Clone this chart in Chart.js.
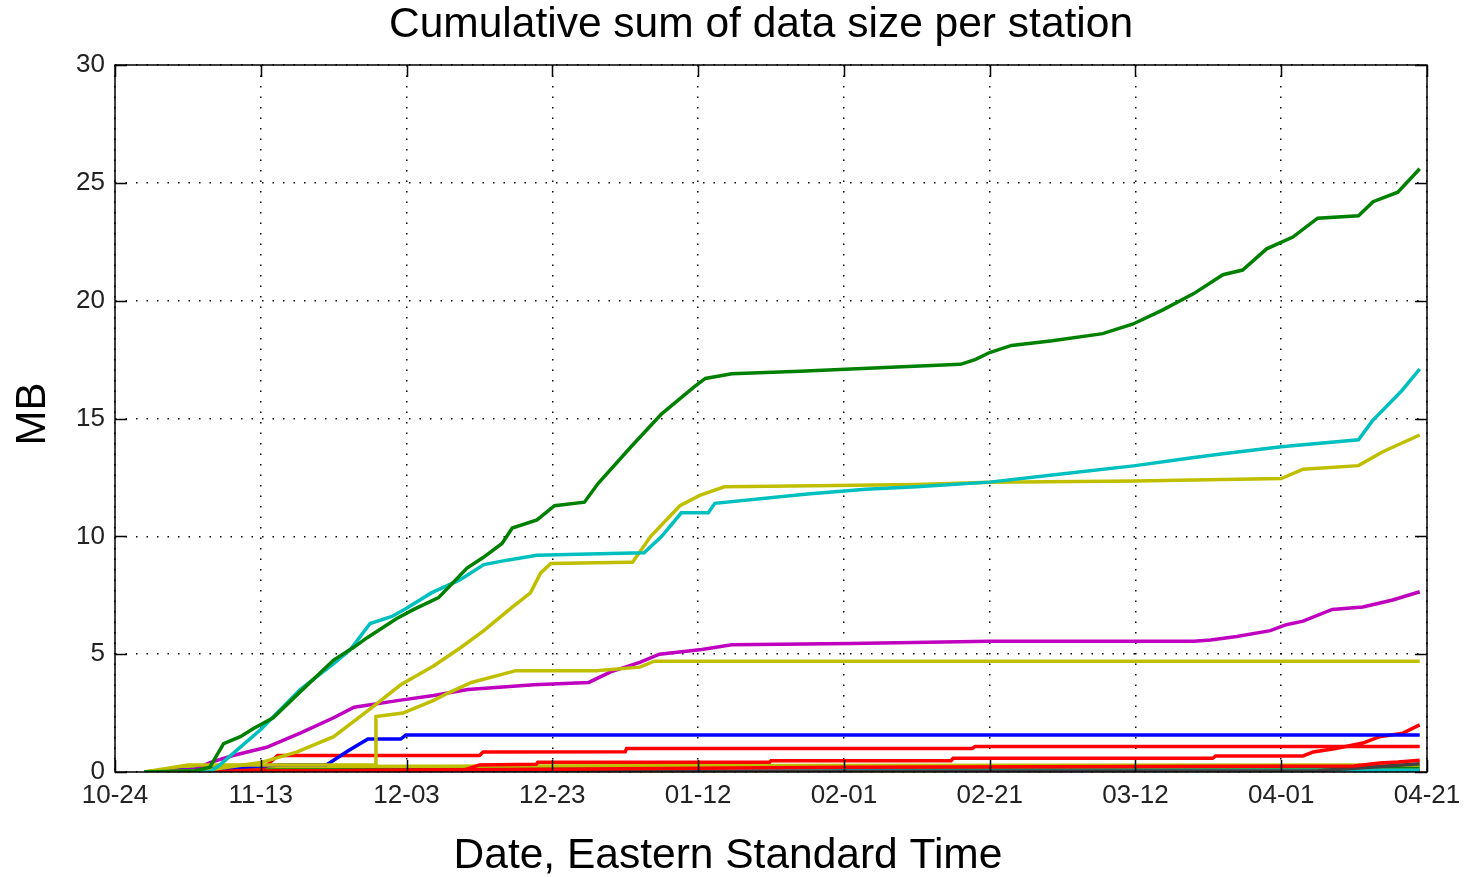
<!DOCTYPE html>
<html>
<head>
<meta charset="utf-8">
<script src="https://cdn.jsdelivr.net/npm/chart.js@4.4.1/dist/chart.umd.min.js"></script>
<style>
    html, body { margin: 0; padding: 0; background: #fff; }
    #wrap { width: 1464px; height: 877px; }
</style>
</head>
<body>
<div id="wrap"><canvas id="chart" width="1464" height="877"></canvas></div>
<script>
// Tick labels (every 20 days from 10-24)
const tickLabels = ['10-24', '11-13', '12-03', '12-23', '01-12', '02-01', '02-21', '03-12', '04-01', '04-21'];

// Values: x = days since 10-24, y = cumulative MB
const greenDays = [4, 11, 13, 14.9, 17.2, 19, 21.7, 25.4, 30, 32.8, 34.6, 38.6, 41, 44.4, 48.3, 50.5, 53.1, 54.5, 57.9, 60.3, 64.4, 66.3, 70.8, 75, 79.5, 81, 84.6, 94, 101, 108, 116, 118, 120, 123, 128.6, 135.5, 139.6, 143.7, 148, 152, 154.7, 158, 161.6, 165, 170.6, 172.6, 176, 179];
const greenMB = [0, 0.05, 0.2, 1.2, 1.5, 1.85, 2.3, 3.4, 4.75, 5.3, 5.7, 6.5, 6.9, 7.4, 8.65, 9.1, 9.7, 10.35, 10.7, 11.3, 11.45, 12.25, 13.8, 15.2, 16.35, 16.7, 16.9, 17.0, 17.1, 17.2, 17.3, 17.5, 17.8, 18.1, 18.3, 18.6, 19.0, 19.6, 20.3, 21.1, 21.3, 22.2, 22.7, 23.5, 23.6, 24.2, 24.6, 25.6];

const cyanDays = [4, 13, 14.4, 17, 20, 25.4, 30, 32.3, 35, 38, 40, 43.4, 47.3, 50.6, 54, 57.9, 65, 72.6, 75, 77.7, 81.4, 82.3, 95, 103, 110, 120, 128.6, 140, 147, 152, 160, 170.6, 172.5, 176.6, 179];
const cyanMB = [0, 0, 0.3, 1.0, 1.8, 3.5, 4.6, 5.2, 6.3, 6.6, 6.95, 7.6, 8.15, 8.8, 9.0, 9.2, 9.25, 9.3, 10.0, 11.0, 11.0, 11.4, 11.8, 12.0, 12.1, 12.3, 12.6, 13.0, 13.3, 13.5, 13.8, 14.1, 14.9, 16.2, 17.1];

const oliveDays = [4, 12, 20, 25, 30, 34.7, 39.2, 43.7, 47.3, 50.6, 54.5, 57, 58.4, 59.8, 70.4, 71, 73.5, 77.5, 80.3, 83.6, 96, 110, 120, 140, 160, 163, 170.6, 174, 179];
const oliveMB = [0, 0.05, 0.4, 0.85, 1.5, 2.6, 3.7, 4.5, 5.25, 6.0, 7.0, 7.6, 8.45, 8.85, 8.9, 8.9, 10.0, 11.3, 11.75, 12.1, 12.15, 12.2, 12.3, 12.35, 12.45, 12.85, 13.0, 13.6, 14.3];

const olive2Days = [4, 10, 35.8, 35.8, 39.5, 43.8, 45.7, 48.9, 55, 66, 72, 74, 179];
const olive2MB = [0, 0.3, 0.3, 2.35, 2.5, 3.05, 3.35, 3.8, 4.3, 4.3, 4.45, 4.7, 4.7];

const magentaDays = [4, 11, 13, 16.2, 20.8, 25.4, 30, 32.8, 39.2, 43.7, 48.4, 57.5, 65, 68, 72, 74.7, 80.5, 84.6, 101, 120, 148, 150.3, 153.9, 158.5, 160.7, 163, 167, 171.2, 175.3, 179];
const magentaMB = [0, 0.1, 0.4, 0.7, 1.05, 1.65, 2.3, 2.75, 3.05, 3.25, 3.5, 3.7, 3.8, 4.25, 4.65, 5.0, 5.2, 5.4, 5.45, 5.55, 5.55, 5.6, 5.75, 6.0, 6.25, 6.4, 6.9, 7.0, 7.3, 7.65];

const blueDays = [4, 22.7, 29, 32, 34.7, 39.2, 39.9, 179];
const blueMB = [0, 0.3, 0.3, 0.9, 1.4, 1.4, 1.57, 1.57];

const redDays = [4, 20, 20.9, 22.3, 50, 50.5, 70, 70.2, 117.6, 118, 179];
const redMB = [0, 0.1, 0.3, 0.7, 0.7, 0.85, 0.86, 1.0, 1.0, 1.08, 1.08];

const red2Days = [4, 30, 48, 50, 57.8, 58, 89.8, 90, 114.7, 115, 150.6, 151, 163, 164.4, 167.5, 171.2, 173.5, 176.7, 179];
const red2MB = [0, 0.05, 0.1, 0.3, 0.33, 0.41, 0.41, 0.48, 0.48, 0.58, 0.58, 0.68, 0.68, 0.85, 1.0, 1.23, 1.5, 1.65, 2.0];

const red3Days = [4, 60, 100, 170, 173.5, 176, 179];
const red3MB = [0, 0.12, 0.2, 0.25, 0.38, 0.42, 0.5];

const smallOliveDays = [4, 12, 88, 179];
const smallOliveMB = [0, 0.22, 0.28, 0.3];
const smallGreenDays = [4, 12, 60, 179];
const smallGreenMB = [0, 0.15, 0.2, 0.22];
const smallCyanDays = [4, 179];
const smallCyanMB = [0, 0.08];
const smallBlueDays = [4, 179];
const smallBlueMB = [0, 0.05];
const smallGrayDays = [4, 165, 179];
const smallGrayMB = [0, 0.05, 0.35];

function toPoints(days, mb) {
    return days.map((d, i) => ({ x: d, y: mb[i] }));
}

function line(days, mb, color) {
    return {
        data: toPoints(days, mb),
        borderColor: color,
        backgroundColor: color,
        borderWidth: 3.5,
        pointRadius: 0,
        tension: 0,
        fill: false
    };
}

// first dataset is drawn on top
const datasets = [
    line(greenDays, greenMB, '#008000'),
    line(cyanDays, cyanMB, '#00bfbf'),
    line(oliveDays, oliveMB, '#bfbf00'),
    line(olive2Days, olive2MB, '#bfbf00'),
    line(magentaDays, magentaMB, '#bf00bf'),
    line(blueDays, blueMB, '#0000ff'),
    line(redDays, redMB, '#ff0000'),
    line(red2Days, red2MB, '#ff0000'),
    line(red3Days, red3MB, '#ff0000'),
    line(smallGrayDays, smallGrayMB, '#404040'),
    line(smallOliveDays, smallOliveMB, '#bfbf00'),
    line(smallGreenDays, smallGreenMB, '#008000'),
    line(smallCyanDays, smallCyanMB, '#00bfbf'),
    line(smallBlueDays, smallBlueMB, '#0000ff')
];

// box and inward tick marks, like the original plot
const frameTicks = {
    id: 'frameTicks',
    afterDraw(chart) {
        const { ctx, chartArea: a, scales: { x, y } } = chart;
        ctx.save();
        ctx.strokeStyle = '#000';
        ctx.lineWidth = 1.5;
        ctx.beginPath();
        x.ticks.forEach(t => {
            const px = Math.round(x.getPixelForValue(t.value)) + 0.5;
            ctx.moveTo(px, a.bottom); ctx.lineTo(px, a.bottom - 12);
            ctx.moveTo(px, a.top); ctx.lineTo(px, a.top + 12);
        });
        y.ticks.forEach(t => {
            const py = Math.round(y.getPixelForValue(t.value)) + 0.5;
            ctx.moveTo(a.left, py); ctx.lineTo(a.left + 12, py);
            ctx.moveTo(a.right, py); ctx.lineTo(a.right - 12, py);
        });
        ctx.stroke();
        ctx.strokeRect(a.left, a.top, a.right - a.left, a.bottom - a.top);
        ctx.restore();
    }
};

const titles = {
    id: 'titles',
    afterDraw(chart) {
        const ctx = chart.ctx;
        ctx.save();
        ctx.fillStyle = '#000';
        ctx.textAlign = 'center';
        ctx.textBaseline = 'middle';
        ctx.font = '42.5px "Liberation Sans", Arial, sans-serif';
        ctx.fillText('Cumulative sum of data size per station', 761, 25);
        ctx.fillText('Date, Eastern Standard Time', 728, 856);
        ctx.font = '42px "Liberation Sans", Arial, sans-serif';
        ctx.translate(33, 414);
        ctx.rotate(-Math.PI / 2);
        ctx.fillText('MB', 0, 0);
        ctx.restore();
    }
};

const tickFont = { family: '"Liberation Sans", Arial, sans-serif', size: 26 };

new Chart(document.getElementById('chart'), {
    type: 'line',
    data: { datasets: datasets },
    options: {
        responsive: false,
        animation: false,
        layout: { padding: { top: 65, right: 37, left: 0, bottom: 0 } },
        plugins: {
            legend: { display: false },
            tooltip: { enabled: false }
        },
        scales: {
            x: {
                type: 'linear',
                min: 0,
                max: 180,
                afterFit: s => { s.height = 105; s.paddingLeft = 0; s.paddingRight = 0; },
                afterBuildTicks: s => { s.ticks = tickLabels.map((l, i) => ({ value: i * 20 })); },
                ticks: {
                    callback: v => tickLabels[Math.round(v / 20)],
                    font: tickFont,
                    color: '#222',
                    padding: 8,
                    maxRotation: 0,
                    autoSkip: false
                },
                grid: { color: '#000', lineWidth: 1.5, drawTicks: false },
                border: { display: false, dash: [1.5, 9] }
            },
            y: {
                min: 0,
                max: 30,
                afterFit: s => { s.width = 115; s.paddingTop = 0; s.paddingBottom = 0; },
                ticks: {
                    stepSize: 5,
                    font: tickFont,
                    color: '#222',
                    padding: 10
                },
                grid: { color: '#000', lineWidth: 1.5, drawTicks: false },
                border: { display: false, dash: [1.5, 9] }
            }
        }
    },
    plugins: [frameTicks, titles]
});
</script>
</body>
</html>
